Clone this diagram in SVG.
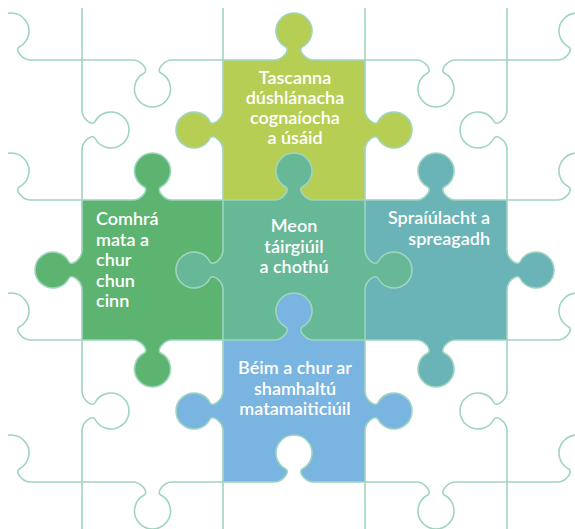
<svg xmlns="http://www.w3.org/2000/svg" xmlns:xlink="http://www.w3.org/1999/xlink" width="575" height="529" viewBox="0 0 575 529">
<style>
.t{font-family:Lato,"Open Sans","Liberation Sans",sans-serif;font-size:18px;font-weight:600;fill:#ffffff;}
.c{text-anchor:middle;}
.r{text-anchor:end;}
.grid{fill:none;stroke:#9FD5BF;stroke-width:1.6;stroke-linejoin:round;stroke-linecap:round;}
.yl{fill:#B7CE55;}
.gr{fill:#5DB470;}
.ce{fill:#67B897;}
.te{fill:#6AB3B6;}
.bl{fill:#7AB5E2;}
.wh{fill:#ffffff;}
</style>
<defs>
<path id="k" d="M-20 0 C-11 0 -3.5 -10.5 -8.25 -13 A18 18 0 1 1 8.25 -13 C3.5 -10.5 11 0 20 0 L20 3 L-20 3 Z"/>
<clipPath id="clip"><rect x="8" y="8" width="567" height="521"/></clipPath>
</defs>
<rect width="575" height="529" fill="#ffffff"/>
<g id="node-top">
<rect class="yl" x="223" y="60" width="142" height="140"/>
<use xlink:href="#k" class="yl" transform="translate(294,60)"/>
<use xlink:href="#k" class="yl" transform="translate(223,130) rotate(-90)"/>
<use xlink:href="#k" class="yl" transform="translate(365,130) rotate(90)"/>
<text class="t c" x="295"><tspan x="295" y="84">Tascanna</tspan><tspan x="295" y="104">dúshlánacha</tspan><tspan x="295" y="124">cognaíocha</tspan><tspan x="295" y="144">a úsáid</tspan></text>
</g>
<g id="node-left">
<rect class="gr" x="82" y="200" width="141" height="140"/>
<use xlink:href="#k" class="gr" transform="translate(152.5,200)"/>
<use xlink:href="#k" class="gr" transform="translate(82,270) rotate(-90)"/>
<use xlink:href="#k" class="gr" transform="translate(152.5,340) rotate(180)"/>
<text class="t" x="96"><tspan x="96" y="225">Comhrá</tspan><tspan x="96" y="245.5">mata a</tspan><tspan x="96" y="266">chur</tspan><tspan x="96" y="286.5">chun</tspan><tspan x="96" y="307">cinn</tspan></text>
</g>
<g id="node-right">
<rect class="te" x="365" y="200" width="142" height="140"/>
<use xlink:href="#k" class="te" transform="translate(436,200)"/>
<use xlink:href="#k" class="te" transform="translate(507,270) rotate(90)"/>
<use xlink:href="#k" class="te" transform="translate(436,340) rotate(180)"/>
<text class="t r" x="490"><tspan x="490" y="224">Spraíúlacht a</tspan><tspan x="490" y="244.5">spreagadh</tspan></text>
</g>
<g id="node-center">
<rect class="ce" x="223" y="200" width="142" height="140"/>
<use xlink:href="#k" class="ce" transform="translate(294,200)"/>
<use xlink:href="#k" class="ce" transform="translate(223,270) rotate(-90)"/>
<use xlink:href="#k" class="ce" transform="translate(365,270) rotate(90)"/>
<text class="t c" x="294"><tspan x="294" y="232">Meon</tspan><tspan x="294" y="252.5">táirgiúil</tspan><tspan x="294" y="273">a chothú</tspan></text>
</g>
<g id="node-bottom">
<rect class="bl" x="223" y="340" width="142" height="142"/>
<use xlink:href="#k" class="bl" transform="translate(294,340)"/>
<use xlink:href="#k" class="bl" transform="translate(223,411) rotate(-90)"/>
<use xlink:href="#k" class="bl" transform="translate(365,411) rotate(90)"/>
<use xlink:href="#k" class="wh" transform="translate(294,482)"/>
<text class="t c" x="295"><tspan x="295" y="374">Béim a chur ar</tspan><tspan x="295" y="394.5">shamhaltú</tspan><tspan x="295" y="415">matamaiticiúil</tspan></text>
</g>
<g id="connectors" clip-path="url(#clip)">
<path class="grid" d="M-9 60 c9 0 16.5 -10.5 11.75 -13 a18 18 0 1 1 16.5 0 c-4.75 2.5 2.75 13 11.75 13 L132.5 60 c9 0 16.5 10.5 11.75 13 a18 18 0 1 0 16.5 0 c-4.75 -2.5 2.75 -13 11.75 -13 L274 60 c9 0 16.5 -10.5 11.75 -13 a18 18 0 1 1 16.5 0 c-4.75 2.5 2.75 13 11.75 13 L416 60 c9 0 16.5 10.5 11.75 13 a18 18 0 1 0 16.5 0 c-4.75 -2.5 2.75 -13 11.75 -13 L557 60 c9 0 16.5 -10.5 11.75 -13 a18 18 0 1 1 16.5 0 c-4.75 2.5 2.75 13 11.75 13"/>
<path class="grid" d="M-9 200 c9 0 16.5 -10.5 11.75 -13 a18 18 0 1 1 16.5 0 c-4.75 2.5 2.75 13 11.75 13 L132.5 200 c9 0 16.5 -10.5 11.75 -13 a18 18 0 1 1 16.5 0 c-4.75 2.5 2.75 13 11.75 13 L274 200 c9 0 16.5 -10.5 11.75 -13 a18 18 0 1 1 16.5 0 c-4.75 2.5 2.75 13 11.75 13 L416 200 c9 0 16.5 -10.5 11.75 -13 a18 18 0 1 1 16.5 0 c-4.75 2.5 2.75 13 11.75 13 L557 200 c9 0 16.5 -10.5 11.75 -13 a18 18 0 1 1 16.5 0 c-4.75 2.5 2.75 13 11.75 13"/>
<path class="grid" d="M-9 340 c9 0 16.5 -10.5 11.75 -13 a18 18 0 1 1 16.5 0 c-4.75 2.5 2.75 13 11.75 13 L132.5 340 c9 0 16.5 10.5 11.75 13 a18 18 0 1 0 16.5 0 c-4.75 -2.5 2.75 -13 11.75 -13 L274 340 c9 0 16.5 -10.5 11.75 -13 a18 18 0 1 1 16.5 0 c-4.75 2.5 2.75 13 11.75 13 L416 340 c9 0 16.5 10.5 11.75 13 a18 18 0 1 0 16.5 0 c-4.75 -2.5 2.75 -13 11.75 -13 L557 340 c9 0 16.5 -10.5 11.75 -13 a18 18 0 1 1 16.5 0 c-4.75 2.5 2.75 13 11.75 13"/>
<path class="grid" d="M-9 482 c9 0 16.5 -10.5 11.75 -13 a18 18 0 1 1 16.5 0 c-4.75 2.5 2.75 13 11.75 13 L132.5 482 c9 0 16.5 10.5 11.75 13 a18 18 0 1 0 16.5 0 c-4.75 -2.5 2.75 -13 11.75 -13 L274 482 c9 0 16.5 -10.5 11.75 -13 a18 18 0 1 1 16.5 0 c-4.75 2.5 2.75 13 11.75 13 L416 482 c9 0 16.5 10.5 11.75 13 a18 18 0 1 0 16.5 0 c-4.75 -2.5 2.75 -13 11.75 -13 L557 482 c9 0 16.5 -10.5 11.75 -13 a18 18 0 1 1 16.5 0 c-4.75 2.5 2.75 13 11.75 13"/>
<path class="grid" d="M82 0 L82 110 c0 9 10.5 16.5 13 11.75 a18 18 0 1 1 0 16.5 c-2.5 -4.75 -13 2.75 -13 11.75 L82 250 c0 9 -10.5 16.5 -13 11.75 a18 18 0 1 0 0 16.5 c2.5 -4.75 13 2.75 13 11.75 L82 391 c0 9 10.5 16.5 13 11.75 a18 18 0 1 1 0 16.5 c-2.5 -4.75 -13 2.75 -13 11.75 L82 529"/>
<path class="grid" d="M223 0 L223 110 c0 9 -10.5 16.5 -13 11.75 a18 18 0 1 0 0 16.5 c2.5 -4.75 13 2.75 13 11.75 L223 250 c0 9 -10.5 16.5 -13 11.75 a18 18 0 1 0 0 16.5 c2.5 -4.75 13 2.75 13 11.75 L223 391 c0 9 -10.5 16.5 -13 11.75 a18 18 0 1 0 0 16.5 c2.5 -4.75 13 2.75 13 11.75 L223 529"/>
<path class="grid" d="M365 0 L365 110 c0 9 10.5 16.5 13 11.75 a18 18 0 1 1 0 16.5 c-2.5 -4.75 -13 2.75 -13 11.75 L365 250 c0 9 10.5 16.5 13 11.75 a18 18 0 1 1 0 16.5 c-2.5 -4.75 -13 2.75 -13 11.75 L365 391 c0 9 10.5 16.5 13 11.75 a18 18 0 1 1 0 16.5 c-2.5 -4.75 -13 2.75 -13 11.75 L365 529"/>
<path class="grid" d="M507 0 L507 110 c0 9 -10.5 16.5 -13 11.75 a18 18 0 1 0 0 16.5 c2.5 -4.75 13 2.75 13 11.75 L507 250 c0 9 10.5 16.5 13 11.75 a18 18 0 1 1 0 16.5 c-2.5 -4.75 -13 2.75 -13 11.75 L507 391 c0 9 -10.5 16.5 -13 11.75 a18 18 0 1 0 0 16.5 c2.5 -4.75 13 2.75 13 11.75 L507 529"/>
</g>
</svg>
